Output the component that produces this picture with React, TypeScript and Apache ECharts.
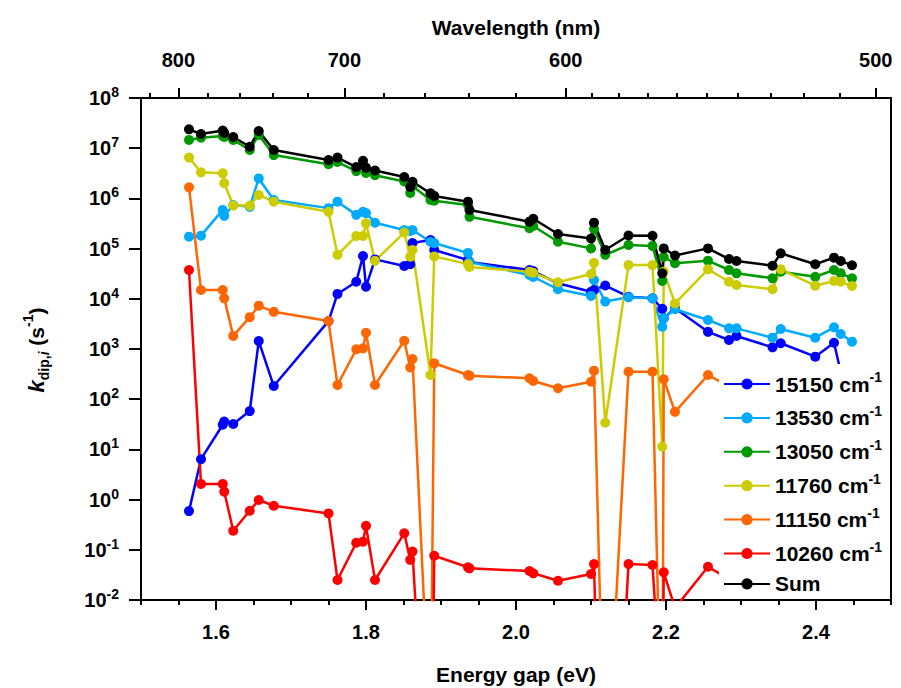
import React, { useEffect, useRef } from 'react';
import * as echarts from 'echarts';

// Energy gap (eV) of each computed point (shared by all series)
const energy = [
  1.564, 1.580, 1.609, 1.611, 1.623, 1.645, 1.657, 1.677, 1.750, 1.762,
  1.787, 1.796, 1.800, 1.812, 1.851, 1.859, 1.862, 1.886, 1.891, 1.936,
  1.938, 2.018, 2.023, 2.056, 2.100, 2.104, 2.119, 2.150, 2.182, 2.195,
  2.197, 2.212, 2.256, 2.284, 2.294, 2.342, 2.353, 2.399, 2.424, 2.433,
  2.448,
];

const k15150 = [
  0.59, 6.4, 31, 36, 32, 58, 1440, 183, 3600, 12500,
  21900, 71000, 17400, 61000, 45000, 49000, 129000, 148000, 94000, 59000,
  54000, 37500, 35800, 20400, 13800, 15000, 18400, 11000, 10200, 6300,
  4100, 6500, 2200, 1510, 1820, 1080, 1300, 703, 1330, 348,
  241,
];
const k13530 = [
  173000, 181000, 590000, 450000, 740000, 680000, 2500000, 930000, 640000, 860000,
  470000, 540000, 510000, 328000, 235000, 224000, 235000, 137000, 129000, 82000,
  54000, 29800, 27200, 15500, 11400, 23700, 8800, 10700, 10200, 2780,
  4150, 6200, 3780, 2580, 2580, 1680, 2500, 1680, 2700, 1990,
  1400,
];
const k13050 = [
  14600000, 16200000, 17500000, 16700000, 14600000, 9200000, 18300000, 7300000, 4800000, 5300000,
  3500000, 4600000, 3200000, 2900000, 2170000, 1280000, 1770000, 930000, 900000, 740000,
  430000, 254000, 282000, 137000, 101000, 246000, 75000, 118000, 113000, 22600,
  68000, 51000, 57400, 37500, 32200, 25600, 34700, 27500, 37500, 32200,
  25600,
];
const k11760 = [
  6500000, 3310000, 3160000, 2000000, 720000, 720000, 1170000, 860000, 540000, 75000,
  178000, 178000, 319000, 57000, 209000, 69000, 94000, 303, 70000, 49000,
  43000, 34700, 33000, 21300, 31200, 52000, 34, 47000, 47000, 11.3,
  34700, 8100, 38700, 21900, 18800, 15500, 38700, 18200, 22600, 21900,
  18000,
];
const k11150 = [
  1660000, 15000, 15000, 10200, 1820, 4300, 7300, 5500, 3600, 192,
  986, 1030, 2100, 192, 1460, 428, 632, 1.6e-5, 519, 303,
  294, 261, 231, 165, 223, 370, 1e-6, 353, 353, 2.65e-6,
  249, 56, 303, 183, 201, 139, 167, 116, 183, 160,
  127,
];
const k10260 = [
  37500, 2.05, 2.05, 1.44, 0.24, 0.6, 0.98, 0.755, 0.53, 0.025,
  0.138, 0.145, 0.3, 0.025, 0.213, 0.063, 0.092, 5.8e-8, 0.076, 0.0448,
  0.0428, 0.0378, 0.034, 0.0242, 0.033, 0.052, 1.9e-10, 0.052, 0.0498, 4.7e-5,
  0.0356, 0.0069, 0.046, 0.026, 0.0287, 0.0199, 0.0239, 0.0166, 0.026, 0.0235,
  0.0177,
];
const kSum = [
  23800000, 19200000, 22500000, 20100000, 16700000, 10700000, 22000000, 9200000, 5800000, 6500000,
  4200000, 5600000, 4100000, 3600000, 2670000, 1690000, 2150000, 1260000, 1120000, 860000,
  590000, 344000, 394000, 195000, 159000, 328000, 94000, 182000, 180000, 32200,
  101000, 73000, 101000, 62000, 56600, 45600, 80600, 48700, 65900, 56600,
  46500,
];

const seriesNames = ['15150 cm-1', '13530 cm-1', '13050 cm-1', '11760 cm-1', '11150 cm-1', '10260 cm-1', 'Sum'];
const seriesColors = ['#0000FF', '#00AAFF', '#009900', '#CCCC00', '#FF6600', '#FF0000', '#000000'];
const seriesValues = [k15150, k13530, k13050, k11760, k11150, k10260, kSum];

// Axis ticks
const energyMajorTicks = [1.6, 1.8, 2.0, 2.2, 2.4];
const wavelengthMajor = [800, 700, 600, 500];
const wavelengthMinor = [820, 780, 760, 740, 720, 680, 660, 640, 620, 590, 580, 570, 560, 550, 540, 530, 520, 510];
const HC = 1239.84; // eV*nm

const FONT = '"Liberation Sans", Arial, Helvetica, sans-serif';
const AXIS_LINE = { color: '#000', width: 2 };

export default function App() {
  const ref = useRef<HTMLDivElement>(null);

  useEffect(() => {
    if (!ref.current) return;
    const chart = echarts.init(ref.current, null, { renderer: 'svg' });

    const bold = { fontFamily: FONT, fontWeight: 'bold' as const, color: '#000' };

    const option: any = {
      animation: false,
      backgroundColor: '#fff',
      grid: { left: 141, top: 98, width: 750, height: 502, containLabel: false, outerBoundsMode: 'none' },
      legend: {
        orient: 'vertical',
        left: 719,
        top: 364,
        padding: [6, 4, 4, 4],
        backgroundColor: '#fff',
        itemWidth: 46,
        itemHeight: 14,
        itemGap: 9.4,
        selectedMode: false,
        data: seriesNames,
        formatter: (name: string) =>
          name.endsWith(' cm-1') ? `{a|${name.slice(0, -2)}}{s|-1}` : `{a|${name}}`,
        textStyle: {
          ...bold,
          rich: {
            a: { ...bold, fontSize: 21, lineHeight: 28 },
            s: { ...bold, fontSize: 14, lineHeight: 12, verticalAlign: 'top' },
          },
        },
      },
      xAxis: [
        {
          type: 'value', position: 'bottom', min: 1.5, max: 2.5, interval: 0.05,
          axisLine: { show: true, onZero: false, lineStyle: AXIS_LINE },
          axisTick: { show: true, length: 5, lineStyle: AXIS_LINE },
          axisLabel: { show: false },
          splitLine: { show: false },
        },
        {
          type: 'value', position: 'bottom', min: 1.5, max: 2.5,
          axisLine: { show: false, onZero: false },
          axisTick: { show: true, length: 10, lineStyle: AXIS_LINE, customValues: energyMajorTicks },
          axisLabel: {
            show: true, customValues: energyMajorTicks, margin: 22, fontSize: 20, ...bold,
            formatter: (v: number) => v.toFixed(1),
          },
          splitLine: { show: false },
        },
        {
          type: 'value', position: 'top', min: 1.5, max: 2.5,
          axisLine: { show: true, onZero: false, lineStyle: AXIS_LINE },
          axisTick: { show: true, length: 10, lineStyle: AXIS_LINE, customValues: wavelengthMajor.map((l) => HC / l) },
          axisLabel: {
            show: true, customValues: wavelengthMajor.map((l) => HC / l), margin: 28, fontSize: 20, ...bold,
            formatter: (v: number) => String(Math.round(HC / v)),
          },
          splitLine: { show: false },
        },
        {
          type: 'value', position: 'top', min: 1.5, max: 2.5,
          axisLine: { show: false, onZero: false },
          axisTick: { show: true, length: 5, lineStyle: AXIS_LINE, customValues: wavelengthMinor.map((l) => HC / l) },
          axisLabel: { show: false },
          splitLine: { show: false },
        },
      ],
      yAxis: [
        {
          type: 'log', logBase: 10, min: 0.01, max: 1e8, interval: 1, position: 'left',
          axisLine: { show: true, onZero: false, lineStyle: AXIS_LINE },
          axisTick: { show: true, length: 12, lineStyle: AXIS_LINE },
          minorTick: { show: false },
          splitLine: { show: false },
          axisLabel: {
            margin: 22,
            ...bold,
            formatter: (v: number) => `{b|10}{e|${Math.round(Math.log10(v))}}`,
            rich: {
              b: { ...bold, fontSize: 20, lineHeight: 26 },
              e: { ...bold, fontSize: 14, lineHeight: 12, verticalAlign: 'top' },
            },
          },
        },
        {
          type: 'value', position: 'right', min: 0, max: 1,
          axisLine: { show: true, onZero: false, lineStyle: AXIS_LINE },
          axisTick: { show: false },
          axisLabel: { show: false },
          splitLine: { show: false },
        },
      ],
      graphic: [
        {
          type: 'text', x: 516, y: 27, silent: true,
          style: { text: 'Wavelength (nm)', fill: '#000', fontFamily: FONT, fontWeight: 'bold', fontSize: 21, textAlign: 'center', textVerticalAlign: 'middle' },
        },
        {
          type: 'text', x: 516, y: 674, silent: true,
          style: { text: 'Energy gap (eV)', fill: '#000', fontFamily: FONT, fontWeight: 'bold', fontSize: 21, textAlign: 'center', textVerticalAlign: 'middle' },
        },
        {
          type: 'text', x: 36, y: 350, rotation: Math.PI / 2, silent: true,
          style: {
            text: '{k|k}{sub|dip,}{subi|i}{n| (s}{sup|-1}{n|)}',
            fill: '#000', fontFamily: FONT, fontWeight: 'bold', fontSize: 21,
            textAlign: 'center', textVerticalAlign: 'middle',
            rich: {
              k: { fill: '#000', fontFamily: FONT, fontWeight: 'bold', fontStyle: 'italic', fontSize: 22, lineHeight: 30 },
              sub: { fill: '#000', fontFamily: FONT, fontWeight: 'bold', fontSize: 14, lineHeight: 14, verticalAlign: 'bottom' },
              subi: { fill: '#000', fontFamily: FONT, fontWeight: 'bold', fontStyle: 'italic', fontSize: 14, lineHeight: 14, verticalAlign: 'bottom' },
              n: { fill: '#000', fontFamily: FONT, fontWeight: 'bold', fontSize: 21, lineHeight: 30 },
              sup: { fill: '#000', fontFamily: FONT, fontWeight: 'bold', fontSize: 14, lineHeight: 14, verticalAlign: 'top' },
            },
          },
        },
      ],
      series: seriesNames.map((name, si) => ({
        type: 'line',
        name,
        xAxisIndex: 0,
        yAxisIndex: 0,
        data: energy.map((e, i) => [e, seriesValues[si][i]]),
        symbol: 'circle',
        symbolSize: 10,
        showSymbol: true,
        clip: true,
        silent: true,
        lineStyle: { width: 2.5, color: seriesColors[si] },
        itemStyle: { color: seriesColors[si] },
        emphasis: { disabled: true },
      })),
    };

    chart.setOption(option);
    return () => chart.dispose();
  }, []);

  return <div ref={ref} style={{ position: 'fixed', left: 0, top: 0, width: 901, height: 688, background: '#fff' }} />;
}
